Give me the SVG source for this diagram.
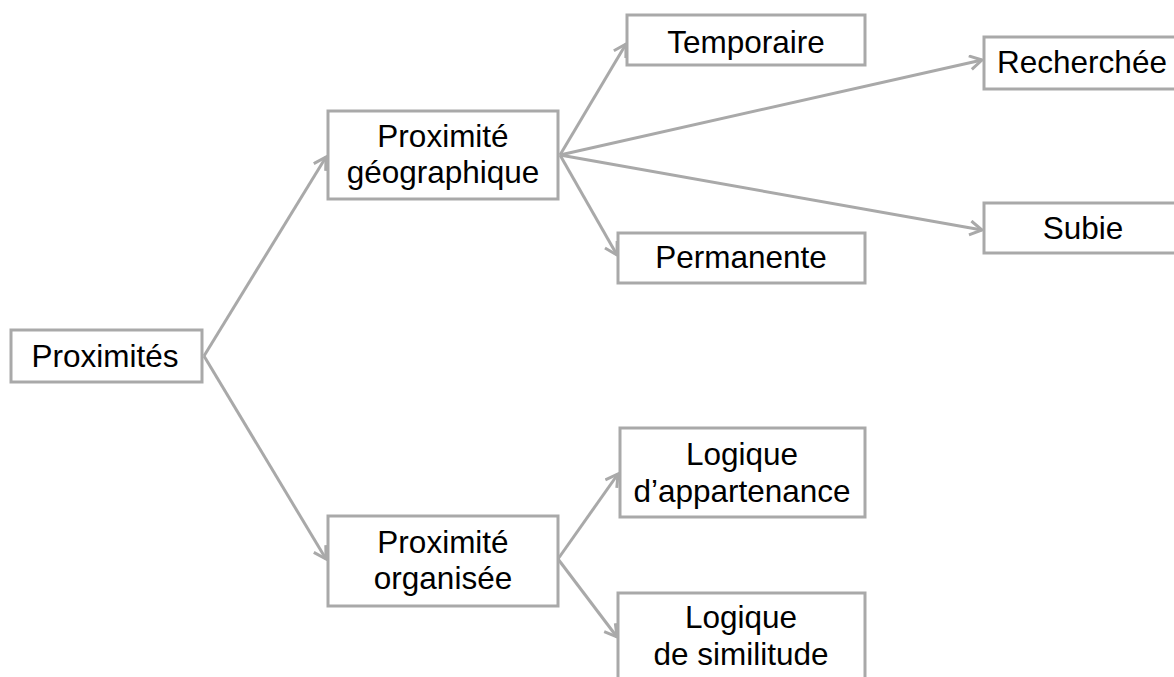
<svg xmlns="http://www.w3.org/2000/svg" width="1174" height="677" viewBox="0 0 1174 677">
<style>
.box{fill:#fff;stroke:#a9a9a9;stroke-width:3}
.t{font-family:"Liberation Sans",Arial,sans-serif;font-size:31.5px;fill:#000;text-anchor:middle}
.c{stroke:#a9a9a9;stroke-width:3;fill:none;marker-end:url(#ah)}
</style>
<defs>
<marker id="ah" markerUnits="userSpaceOnUse" markerWidth="20" markerHeight="20" viewBox="0 0 20 20" refX="15" refY="8" orient="auto">
<path d="M3,1 L15,8 L3,15" fill="none" stroke="#a9a9a9" stroke-width="3"/>
</marker>
</defs>
<rect width="1174" height="677" fill="#fff"/>
<g id="connectors">
<line class="c" x1="204" y1="356" x2="326" y2="157"/>
<line class="c" x1="204" y1="356" x2="326" y2="559"/>
<line class="c" x1="560" y1="155" x2="626" y2="44"/>
<line class="c" x1="560" y1="155" x2="982" y2="60"/>
<line class="c" x1="560" y1="155" x2="982" y2="230"/>
<line class="c" x1="560" y1="155" x2="617" y2="255"/>
<line class="c" x1="558" y1="559" x2="618" y2="474"/>
<line class="c" x1="558" y1="559" x2="617" y2="637"/>
</g>
<g id="n-proximites"><rect class="box" x="11" y="330" width="191" height="52"/><text class="t" x="105" y="367">Proximités</text></g>
<g id="n-geo"><rect class="box" x="328" y="111" width="230" height="88"/><text class="t" x="443" y="147">Proximité</text><text class="t" x="443" y="183">géographique</text></g>
<g id="n-temporaire"><rect class="box" x="627" y="15" width="238" height="50"/><text class="t" x="746" y="53">Temporaire</text></g>
<g id="n-recherchee"><rect class="box" x="984" y="37" width="200" height="52"/><text class="t" x="1082" y="73">Recherchée</text></g>
<g id="n-subie"><rect class="box" x="984" y="203" width="200" height="50"/><text class="t" x="1083" y="239">Subie</text></g>
<g id="n-permanente"><rect class="box" x="618" y="233" width="247" height="50"/><text class="t" x="741" y="268">Permanente</text></g>
<g id="n-org"><rect class="box" x="328" y="516" width="230" height="90"/><text class="t" x="443" y="553">Proximité</text><text class="t" x="443" y="589">organisée</text></g>
<g id="n-appartenance"><rect class="box" x="620" y="428" width="245" height="89"/><text class="t" x="742" y="465">Logique</text><text class="t" x="742" y="502">d’appartenance</text></g>
<g id="n-similitude"><rect class="box" x="618" y="593" width="247" height="100"/><text class="t" x="741" y="628">Logique</text><text class="t" x="741" y="665">de similitude</text></g>
</svg>
